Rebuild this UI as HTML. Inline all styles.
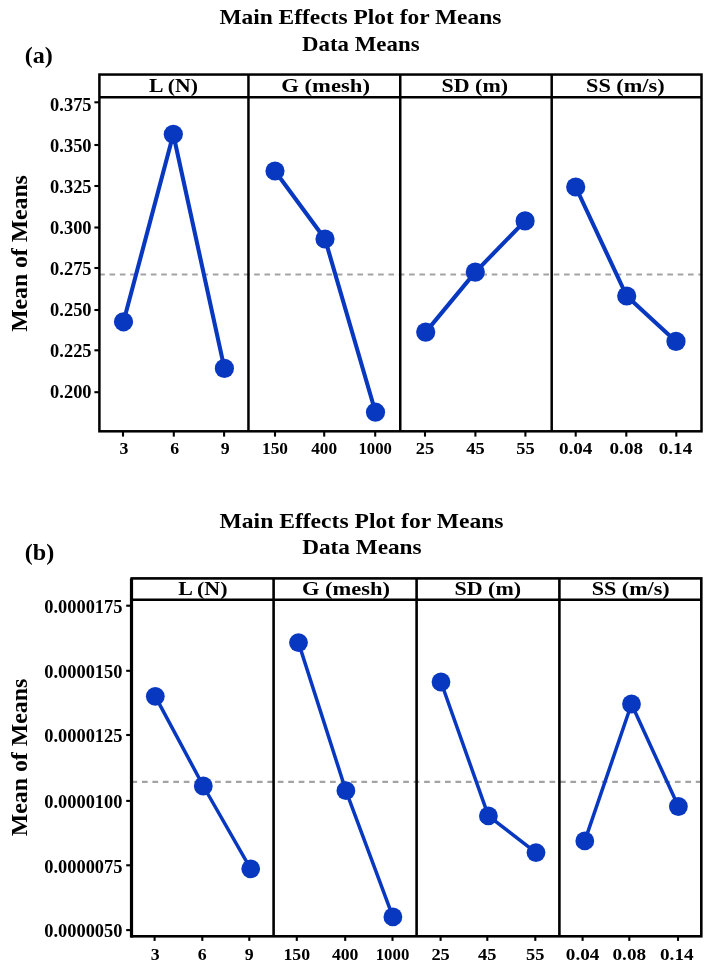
<!DOCTYPE html>
<html><head><meta charset="utf-8"><title>Main Effects Plot for Means</title>
<style>
html,body{margin:0;padding:0;background:#fff;}
body{width:711px;height:971px;overflow:hidden;font-family:"Liberation Serif",serif;}
svg{display:block;will-change:transform;transform:translateZ(0);}
svg text{font-family:"Liberation Serif",serif;font-weight:bold;fill:#000;}
</style></head><body>
<svg width="711" height="971" viewBox="0 0 711 971">
<rect width="711" height="971" fill="#fff"/>
<!-- chart a -->
<line x1="99.2" y1="274.5" x2="701.5" y2="274.5" stroke="#a3a3a3" stroke-width="2.2" stroke-dasharray="5.62 4.71" stroke-dashoffset="0"/>
<polyline points="123.5,321.8 173.3,134.3 224.4,368.4" fill="none" stroke="#0838c0" stroke-width="4.1" stroke-linejoin="round"/>
<circle cx="123.5" cy="321.8" r="9.6" fill="#0838c0"/>
<circle cx="173.3" cy="134.3" r="9.6" fill="#0838c0"/>
<circle cx="224.4" cy="368.4" r="9.6" fill="#0838c0"/>
<polyline points="275,171 325,239 375.5,412.2" fill="none" stroke="#0838c0" stroke-width="4.1" stroke-linejoin="round"/>
<circle cx="275" cy="171" r="9.6" fill="#0838c0"/>
<circle cx="325" cy="239" r="9.6" fill="#0838c0"/>
<circle cx="375.5" cy="412.2" r="9.6" fill="#0838c0"/>
<polyline points="425.7,332.1 475.3,272.1 525.1,220.9" fill="none" stroke="#0838c0" stroke-width="4.1" stroke-linejoin="round"/>
<circle cx="425.7" cy="332.1" r="9.6" fill="#0838c0"/>
<circle cx="475.3" cy="272.1" r="9.6" fill="#0838c0"/>
<circle cx="525.1" cy="220.9" r="9.6" fill="#0838c0"/>
<polyline points="575.7,187 626.7,296 676,341.4" fill="none" stroke="#0838c0" stroke-width="4.1" stroke-linejoin="round"/>
<circle cx="575.7" cy="187" r="9.6" fill="#0838c0"/>
<circle cx="626.7" cy="296" r="9.6" fill="#0838c0"/>
<circle cx="676" cy="341.4" r="9.6" fill="#0838c0"/>
<g stroke="#000" fill="none">
<rect x="99.4" y="74.55" width="602.1" height="356.75" stroke-width="2.5"/>
<line x1="99.4" y1="97.2" x2="701.5" y2="97.2" stroke-width="2.5"/>
<line x1="248.45" y1="74.55" x2="248.45" y2="431.3" stroke-width="2.5"/>
<line x1="400.25" y1="74.55" x2="400.25" y2="431.3" stroke-width="2.5"/>
<line x1="551.7" y1="74.55" x2="551.7" y2="431.3" stroke-width="2.5"/>
</g>
<g stroke="#000" stroke-width="2.1" fill="none">
<line x1="94.4" y1="102.3" x2="99.4" y2="102.3"/>
<line x1="94.4" y1="145" x2="99.4" y2="145"/>
<line x1="94.4" y1="186" x2="99.4" y2="186"/>
<line x1="94.4" y1="227.5" x2="99.4" y2="227.5"/>
<line x1="94.4" y1="268" x2="99.4" y2="268"/>
<line x1="94.4" y1="310" x2="99.4" y2="310"/>
<line x1="94.4" y1="350.3" x2="99.4" y2="350.3"/>
<line x1="94.4" y1="392.2" x2="99.4" y2="392.2"/>
<line x1="123.0" y1="431.3" x2="123.0" y2="436.6"/>
<line x1="173.8" y1="431.3" x2="173.8" y2="436.6"/>
<line x1="224.1" y1="431.3" x2="224.1" y2="436.6"/>
<line x1="275" y1="431.3" x2="275" y2="436.6"/>
<line x1="324.2" y1="431.3" x2="324.2" y2="436.6"/>
<line x1="375.2" y1="431.3" x2="375.2" y2="436.6"/>
<line x1="425" y1="431.3" x2="425" y2="436.6"/>
<line x1="475.4" y1="431.3" x2="475.4" y2="436.6"/>
<line x1="525.4" y1="431.3" x2="525.4" y2="436.6"/>
<line x1="575.7" y1="431.3" x2="575.7" y2="436.6"/>
<line x1="626.3" y1="431.3" x2="626.3" y2="436.6"/>
<line x1="676.3" y1="431.3" x2="676.3" y2="436.6"/>
</g>
<text x="91.6" y="111.4" font-size="19.7" text-anchor="end" textLength="41.5" lengthAdjust="spacingAndGlyphs">0.375</text>
<text x="91.6" y="152.3" font-size="19.7" text-anchor="end" textLength="41.5" lengthAdjust="spacingAndGlyphs">0.350</text>
<text x="91.6" y="193.3" font-size="19.7" text-anchor="end" textLength="41.5" lengthAdjust="spacingAndGlyphs">0.325</text>
<text x="91.6" y="234.4" font-size="19.7" text-anchor="end" textLength="41.5" lengthAdjust="spacingAndGlyphs">0.300</text>
<text x="91.6" y="274.5" font-size="19.7" text-anchor="end" textLength="41.5" lengthAdjust="spacingAndGlyphs">0.275</text>
<text x="91.6" y="315.9" font-size="19.7" text-anchor="end" textLength="41.5" lengthAdjust="spacingAndGlyphs">0.250</text>
<text x="91.6" y="356.5" font-size="19.7" text-anchor="end" textLength="41.5" lengthAdjust="spacingAndGlyphs">0.225</text>
<text x="91.6" y="398" font-size="19.7" text-anchor="end" textLength="41.5" lengthAdjust="spacingAndGlyphs">0.200</text>
<text x="123.9" y="454.1" font-size="17.2" text-anchor="middle" textLength="8.9" lengthAdjust="spacingAndGlyphs">3</text>
<text x="174.7" y="454.1" font-size="17.2" text-anchor="middle" textLength="8.9" lengthAdjust="spacingAndGlyphs">6</text>
<text x="225.1" y="454.1" font-size="17.2" text-anchor="middle" textLength="8.9" lengthAdjust="spacingAndGlyphs">9</text>
<text x="275" y="454.1" font-size="17.2" text-anchor="middle" textLength="26" lengthAdjust="spacingAndGlyphs">150</text>
<text x="324.2" y="454.1" font-size="17.2" text-anchor="middle" textLength="26" lengthAdjust="spacingAndGlyphs">400</text>
<text x="375.2" y="454.1" font-size="17.2" text-anchor="middle" textLength="33.5" lengthAdjust="spacingAndGlyphs">1000</text>
<text x="425" y="454.1" font-size="17.2" text-anchor="middle" textLength="18.4" lengthAdjust="spacingAndGlyphs">25</text>
<text x="475.4" y="454.1" font-size="17.2" text-anchor="middle" textLength="18.4" lengthAdjust="spacingAndGlyphs">45</text>
<text x="525.4" y="454.1" font-size="17.2" text-anchor="middle" textLength="18.4" lengthAdjust="spacingAndGlyphs">55</text>
<text x="575.7" y="454.1" font-size="17.2" text-anchor="middle" textLength="33.5" lengthAdjust="spacingAndGlyphs">0.04</text>
<text x="626.3" y="454.1" font-size="17.2" text-anchor="middle" textLength="33.5" lengthAdjust="spacingAndGlyphs">0.08</text>
<text x="675.5" y="454.1" font-size="17.2" text-anchor="middle" textLength="33.5" lengthAdjust="spacingAndGlyphs">0.14</text>
<text x="173.5" y="91.8" font-size="19.5" text-anchor="middle" textLength="48.8" lengthAdjust="spacingAndGlyphs">L (N)</text>
<text x="325.6" y="91.8" font-size="19.5" text-anchor="middle" textLength="88.7" lengthAdjust="spacingAndGlyphs">G (mesh)</text>
<text x="474.8" y="91.8" font-size="19.5" text-anchor="middle" textLength="66.5" lengthAdjust="spacingAndGlyphs">SD (m)</text>
<text x="625.3" y="91.8" font-size="19.5" text-anchor="middle" textLength="78.6" lengthAdjust="spacingAndGlyphs">SS (m/s)</text>
<text x="360.4" y="23.7" font-size="22" text-anchor="middle" textLength="282" lengthAdjust="spacingAndGlyphs">Main Effects Plot for Means</text>
<text x="360.8" y="50.6" font-size="22" text-anchor="middle" textLength="117.5" lengthAdjust="spacingAndGlyphs">Data Means</text>
<text x="24.8" y="63.2" font-size="24" text-anchor="start" textLength="28.1" lengthAdjust="spacingAndGlyphs">(a)</text>
<text transform="translate(27.1,253.5) rotate(-90)" font-size="22.5" text-anchor="middle" textLength="156.6" lengthAdjust="spacingAndGlyphs">Mean of Means</text>
<!-- chart b -->
<line x1="131.5" y1="781.9" x2="701.3" y2="781.9" stroke="#a3a3a3" stroke-width="2.2" stroke-dasharray="5.7 4.75" stroke-dashoffset="0"/>
<polyline points="155.3,696.3 203.3,786 250.7,868.8" fill="none" stroke="#0838c0" stroke-width="3.5" stroke-linejoin="round"/>
<circle cx="155.3" cy="696.3" r="9.4" fill="#0838c0"/>
<circle cx="203.3" cy="786" r="9.4" fill="#0838c0"/>
<circle cx="250.7" cy="868.8" r="9.4" fill="#0838c0"/>
<polyline points="298.5,642.6 345.9,790.7 392.9,916.9" fill="none" stroke="#0838c0" stroke-width="3.5" stroke-linejoin="round"/>
<circle cx="298.5" cy="642.6" r="9.4" fill="#0838c0"/>
<circle cx="345.9" cy="790.7" r="9.4" fill="#0838c0"/>
<circle cx="392.9" cy="916.9" r="9.4" fill="#0838c0"/>
<polyline points="441,682 488.4,815.9 536,852.6" fill="none" stroke="#0838c0" stroke-width="3.5" stroke-linejoin="round"/>
<circle cx="441" cy="682" r="9.4" fill="#0838c0"/>
<circle cx="488.4" cy="815.9" r="9.4" fill="#0838c0"/>
<circle cx="536" cy="852.6" r="9.4" fill="#0838c0"/>
<polyline points="584.8,840.9 631.5,704 678.4,806.5" fill="none" stroke="#0838c0" stroke-width="3.5" stroke-linejoin="round"/>
<circle cx="584.8" cy="840.9" r="9.4" fill="#0838c0"/>
<circle cx="631.5" cy="704" r="9.4" fill="#0838c0"/>
<circle cx="678.4" cy="806.5" r="9.4" fill="#0838c0"/>
<g stroke="#000" fill="none">
<rect x="131.7" y="578.4" width="569.5999999999999" height="357.9" stroke-width="2.6"/>
<line x1="131.7" y1="599.8" x2="701.3" y2="599.8" stroke-width="2.5"/>
<line x1="131.5" y1="578.4" x2="131.5" y2="937.6" stroke-width="3.2"/>
<line x1="273.6" y1="578.4" x2="273.6" y2="936.3" stroke-width="2.6"/>
<line x1="416.6" y1="578.4" x2="416.6" y2="936.3" stroke-width="2.6"/>
<line x1="559.4" y1="578.4" x2="559.4" y2="936.3" stroke-width="2.6"/>
</g>
<g stroke="#000" stroke-width="2.1" fill="none">
<line x1="126.19999999999999" y1="605.7" x2="131.7" y2="605.7"/>
<line x1="126.19999999999999" y1="670.8" x2="131.7" y2="670.8"/>
<line x1="126.19999999999999" y1="735" x2="131.7" y2="735"/>
<line x1="126.19999999999999" y1="800.9" x2="131.7" y2="800.9"/>
<line x1="126.19999999999999" y1="865.3" x2="131.7" y2="865.3"/>
<line x1="126.19999999999999" y1="930.1" x2="131.7" y2="930.1"/>
<line x1="154.6" y1="936.3" x2="154.6" y2="940.9"/>
<line x1="202.3" y1="936.3" x2="202.3" y2="940.9"/>
<line x1="249.3" y1="936.3" x2="249.3" y2="940.9"/>
<line x1="296.8" y1="936.3" x2="296.8" y2="940.9"/>
<line x1="345.2" y1="936.3" x2="345.2" y2="940.9"/>
<line x1="392.5" y1="936.3" x2="392.5" y2="940.9"/>
<line x1="440.6" y1="936.3" x2="440.6" y2="940.9"/>
<line x1="487.3" y1="936.3" x2="487.3" y2="940.9"/>
<line x1="535.3" y1="936.3" x2="535.3" y2="940.9"/>
<line x1="582.6" y1="936.3" x2="582.6" y2="940.9"/>
<line x1="629.3" y1="936.3" x2="629.3" y2="940.9"/>
<line x1="678" y1="936.3" x2="678" y2="940.9"/>
</g>
<text x="122.5" y="613.0" font-size="19.3" text-anchor="end" textLength="78.3" lengthAdjust="spacingAndGlyphs">0.0000175</text>
<text x="122.5" y="678.1" font-size="19.3" text-anchor="end" textLength="78.3" lengthAdjust="spacingAndGlyphs">0.0000150</text>
<text x="122.5" y="742.3" font-size="19.3" text-anchor="end" textLength="78.3" lengthAdjust="spacingAndGlyphs">0.0000125</text>
<text x="122.5" y="808.2" font-size="19.3" text-anchor="end" textLength="78.3" lengthAdjust="spacingAndGlyphs">0.0000100</text>
<text x="122.5" y="872.6" font-size="19.3" text-anchor="end" textLength="78.3" lengthAdjust="spacingAndGlyphs">0.0000075</text>
<text x="122.5" y="937.4" font-size="19.3" text-anchor="end" textLength="78.3" lengthAdjust="spacingAndGlyphs">0.0000050</text>
<text x="155.1" y="959.5" font-size="17.2" text-anchor="middle" textLength="8.9" lengthAdjust="spacingAndGlyphs">3</text>
<text x="202.3" y="959.5" font-size="17.2" text-anchor="middle" textLength="8.9" lengthAdjust="spacingAndGlyphs">6</text>
<text x="249.3" y="959.5" font-size="17.2" text-anchor="middle" textLength="8.9" lengthAdjust="spacingAndGlyphs">9</text>
<text x="296.8" y="959.5" font-size="17.2" text-anchor="middle" textLength="26.6" lengthAdjust="spacingAndGlyphs">150</text>
<text x="345.2" y="959.5" font-size="17.2" text-anchor="middle" textLength="26.6" lengthAdjust="spacingAndGlyphs">400</text>
<text x="392.5" y="959.5" font-size="17.2" text-anchor="middle" textLength="33.6" lengthAdjust="spacingAndGlyphs">1000</text>
<text x="440.6" y="959.5" font-size="17.2" text-anchor="middle" textLength="18.4" lengthAdjust="spacingAndGlyphs">25</text>
<text x="487.3" y="959.5" font-size="17.2" text-anchor="middle" textLength="18.4" lengthAdjust="spacingAndGlyphs">45</text>
<text x="535.3" y="959.5" font-size="17.2" text-anchor="middle" textLength="18.4" lengthAdjust="spacingAndGlyphs">55</text>
<text x="582.6" y="959.5" font-size="17.2" text-anchor="middle" textLength="33.6" lengthAdjust="spacingAndGlyphs">0.04</text>
<text x="629.3" y="959.5" font-size="17.2" text-anchor="middle" textLength="33.6" lengthAdjust="spacingAndGlyphs">0.08</text>
<text x="676.8" y="959.5" font-size="17.2" text-anchor="middle" textLength="33.6" lengthAdjust="spacingAndGlyphs">0.14</text>
<text x="202.8" y="595" font-size="19.5" text-anchor="middle" textLength="49.3" lengthAdjust="spacingAndGlyphs">L (N)</text>
<text x="346" y="595" font-size="19.5" text-anchor="middle" textLength="88" lengthAdjust="spacingAndGlyphs">G (mesh)</text>
<text x="487.8" y="595" font-size="19.5" text-anchor="middle" textLength="66.5" lengthAdjust="spacingAndGlyphs">SD (m)</text>
<text x="630.7" y="595" font-size="19.5" text-anchor="middle" textLength="78" lengthAdjust="spacingAndGlyphs">SS (m/s)</text>
<text x="361.5" y="528.2" font-size="22" text-anchor="middle" textLength="284" lengthAdjust="spacingAndGlyphs">Main Effects Plot for Means</text>
<text x="361.9" y="553.9" font-size="22" text-anchor="middle" textLength="119.4" lengthAdjust="spacingAndGlyphs">Data Means</text>
<text x="24.8" y="560.1" font-size="23.5" text-anchor="start" textLength="29.5" lengthAdjust="spacingAndGlyphs">(b)</text>
<text transform="translate(27.1,757.5) rotate(-90)" font-size="22.5" text-anchor="middle" textLength="157.5" lengthAdjust="spacingAndGlyphs">Mean of Means</text>
</svg>
</body></html>
